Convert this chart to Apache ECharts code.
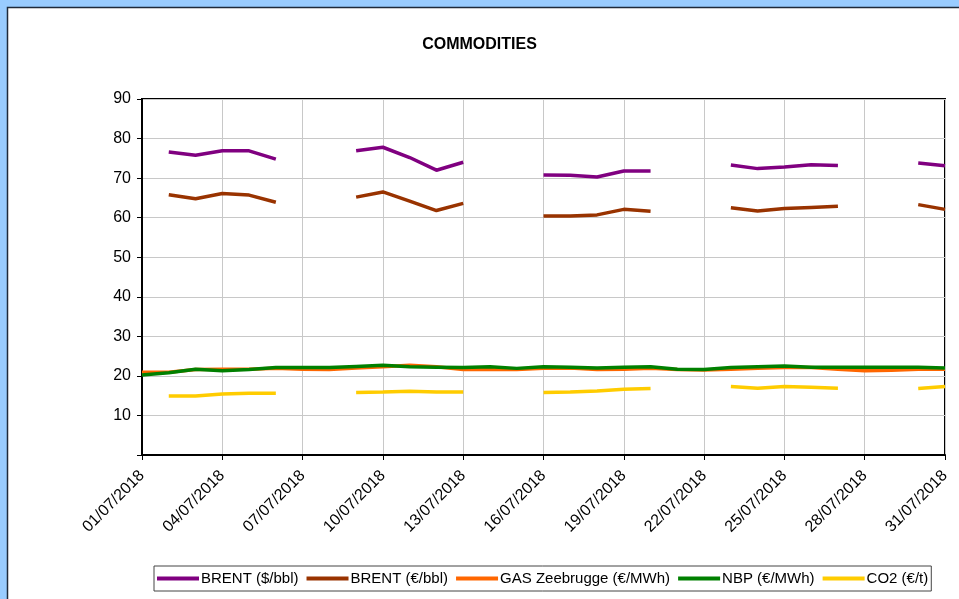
<!DOCTYPE html>
<html>
<head>
<meta charset="utf-8">
<script src="https://cdn.jsdelivr.net/npm/echarts@6/dist/echarts.min.js"></script>
<style>
html,body{margin:0;padding:0;background:#99ccff;}
#c{width:959px;height:599px;}
</style>
</head>
<body>
<div id="c"></div>
<script>
const dates = ["01/07/2018","02/07/2018","03/07/2018","04/07/2018","05/07/2018","06/07/2018","07/07/2018","08/07/2018","09/07/2018","10/07/2018","11/07/2018","12/07/2018","13/07/2018","14/07/2018","15/07/2018","16/07/2018","17/07/2018","18/07/2018","19/07/2018","20/07/2018","21/07/2018","22/07/2018","23/07/2018","24/07/2018","25/07/2018","26/07/2018","27/07/2018","28/07/2018","29/07/2018","30/07/2018","31/07/2018"];
const brentUsd = [null,76.6,75.8,76.9,76.9,74.8,null,null,76.9,77.8,75.2,72.0,74.0,null,null,70.8,70.7,70.3,71.8,71.8,null,null,73.3,72.4,72.8,73.4,73.2,null,null,73.8,73.1];
const brentEur = [null,65.8,64.8,66.1,65.7,63.9,null,null,65.2,66.5,64.2,61.8,63.6,null,null,60.4,60.4,60.7,62.1,61.6,null,null,62.5,61.7,62.3,62.6,62.9,null,null,63.3,62.1];
const gasZee = [20.9,20.9,21.6,21.7,21.7,21.9,21.7,21.6,22.0,22.3,22.7,22.3,21.6,21.6,21.6,21.9,22.0,21.6,21.7,21.9,21.6,21.5,21.7,21.9,22.1,22.1,21.7,21.3,21.4,21.7,21.7];
const nbp = [20.2,20.8,21.7,21.3,21.6,22.1,22.1,22.1,22.4,22.7,22.3,22.2,22.1,22.3,21.9,22.3,22.2,22.0,22.2,22.3,21.7,21.6,22.1,22.3,22.5,22.2,22.2,22.2,22.2,22.2,22.0];
const co2 = [null,14.9,14.9,15.4,15.6,15.6,null,null,15.8,15.9,16.1,15.9,15.9,null,null,15.8,15.9,16.2,16.6,16.8,null,null,17.3,16.9,17.3,17.1,16.9,null,null,16.8,17.3];
const seriesNames = ["BRENT ($/bbl)","BRENT (€/bbl)","GAS Zeebrugge (€/MWh)","NBP (€/MWh)","CO2 (€/t)"];
const seriesColors = ["#800080","#993300","#ff6600","#008000","#ffcc00"];
const seriesData = [brentUsd, brentEur, gasZee, nbp, co2];

const font = 'Arial, "Liberation Sans", sans-serif';
const chart = echarts.init(document.getElementById('c'));
chart.setOption({
  animation: false,
  backgroundColor: 'transparent',
  graphic: [{
    type: 'rect', z: -10, silent: true,
    shape: {x: 7.5, y: 7.5, width: 960, height: 600},
    style: {fill: '#ffffff', stroke: '#1f2a3a', lineWidth: 1.5}
  }],
  title: {
    text: 'COMMODITIES', left: 'center', top: 32,
    textStyle: {fontFamily: font, fontSize: 16, fontWeight: 'bold', color: '#000'}
  },
  legend: {
    bottom: 8, left: 154,
    itemWidth: 42, itemHeight: 4, itemGap: 8,
    icon: 'rect',
    borderColor: '#444', borderWidth: 1, padding: [5, 3, 5, 3],
    textStyle: {fontFamily: font, fontSize: 15, color: '#000', padding: [0, 0, 0, -3]},
    data: seriesNames
  },
  grid: {left: 142, right: 14, top: 99, bottom: 144, show: true, borderColor: '#000', borderWidth: 2, backgroundColor: '#fff'},
  xAxis: {
    type: 'category', data: dates, boundaryGap: false,
    axisLine: {lineStyle: {color: '#000', width: 2}},
    axisTick: {show: true, interval: 2, length: 5, lineStyle: {color: '#000'}},
    axisLabel: {interval: 2, rotate: 45, fontFamily: font, fontSize: 16, color: '#000', margin: 18},
    splitLine: {show: true, interval: 2, lineStyle: {color: '#c8c8c8', width: 1}}
  },
  yAxis: {
    type: 'value', min: 0, max: 90, interval: 10,
    axisLine: {show: true, lineStyle: {color: '#000', width: 2}},
    axisTick: {show: true, length: 5, lineStyle: {color: '#000'}},
    axisLabel: {fontFamily: font, fontSize: 16, color: '#000', margin: 11,
      formatter: v => v === 0 ? '' : String(v)},
    splitLine: {show: true, lineStyle: {color: '#c8c8c8', width: 1}}
  },
  series: seriesNames.map((n, i) => ({
    name: n, type: 'line', data: seriesData[i],
    showSymbol: false, symbol: 'none', connectNulls: false,
    lineStyle: {color: seriesColors[i], width: 3.5},
    itemStyle: {color: seriesColors[i]}
  }))
});
</script>
</body>
</html>
